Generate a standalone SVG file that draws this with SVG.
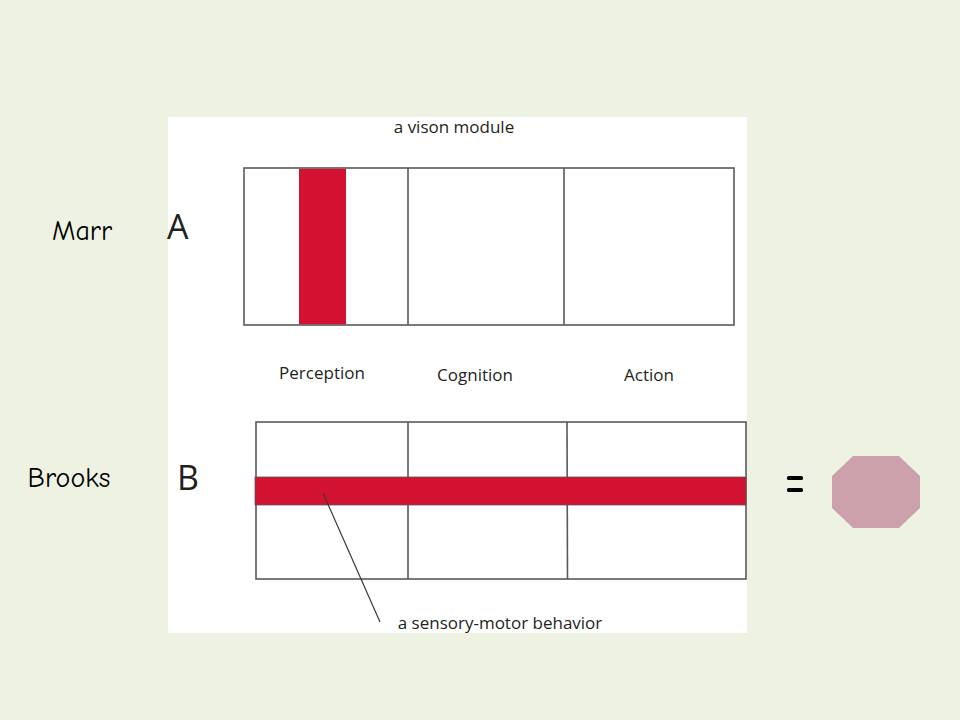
<svg xmlns="http://www.w3.org/2000/svg" width="960" height="720" viewBox="0 0 960 720">
<style>
.lbl{font-family:"Open Sans","Liberation Sans",sans-serif;fill:#231f20;}
.side{font-family:"Comic Neue","DejaVu Sans",sans-serif;fill:#000;font-size:28px;}
.cell{fill:#fff;stroke:#58595b;stroke-width:1.6;}
.red{fill:#d31130;}
.div{stroke:#58595b;stroke-width:1.6;}
</style>
<rect width="960" height="720" fill="#eef2e2"/>
<rect id="panel" x="168" y="117" width="579" height="516" fill="#ffffff"/>
<g id="boxA">
<rect class="cell" x="244" y="168" width="490" height="157"/>
<rect class="red" x="299" y="168.8" width="47" height="155.5"/>
<line class="div" x1="408" y1="168" x2="408" y2="325"/>
<line class="div" x1="564" y1="168" x2="564" y2="325"/>
</g>
<g id="boxB">
<rect class="cell" x="256" y="422" width="490" height="157"/>
<line class="div" x1="408" y1="422" x2="408" y2="579"/>
<line class="div" x1="567" y1="422" x2="567.5" y2="579"/>
<rect class="red" x="255" y="477" width="491" height="28" stroke="#58595b" stroke-width="0.8"/>
</g>
<g id="connectors">
<line x1="323" y1="493" x2="380" y2="622" stroke="#3a3a3a" stroke-width="1.2"/>
</g>
<g id="texts">
<text class="lbl" x="454" y="133" font-size="17" text-anchor="middle">a vison module</text>
<text class="lbl" x="322" y="379" font-size="17" text-anchor="middle">Perception</text>
<text class="lbl" x="475" y="381" font-size="17" text-anchor="middle">Cognition</text>
<text class="lbl" x="649" y="381" font-size="17" text-anchor="middle">Action</text>
<text class="lbl" x="500" y="629" font-size="17" text-anchor="middle">a sensory-motor behavior</text>
<text class="lbl" x="167" y="239" font-size="34">A</text>
<text class="lbl" x="177" y="490" font-size="34">B</text>
<text class="side" x="82" y="240" text-anchor="middle">Marr</text>
<text class="side" x="69" y="487" text-anchor="middle">Brooks</text>
</g>
<g id="equals">
<rect x="787" y="476" width="16" height="4" rx="1.5" fill="#000"/>
<rect x="787" y="488" width="16" height="4" rx="1.5" fill="#000"/>
</g>
<g id="octagon">
<polygon points="853,456 899,456 920,476 920,508 899,528 853,528 832,508 832,476" fill="#cca1ab"/>
</g>
</svg>
